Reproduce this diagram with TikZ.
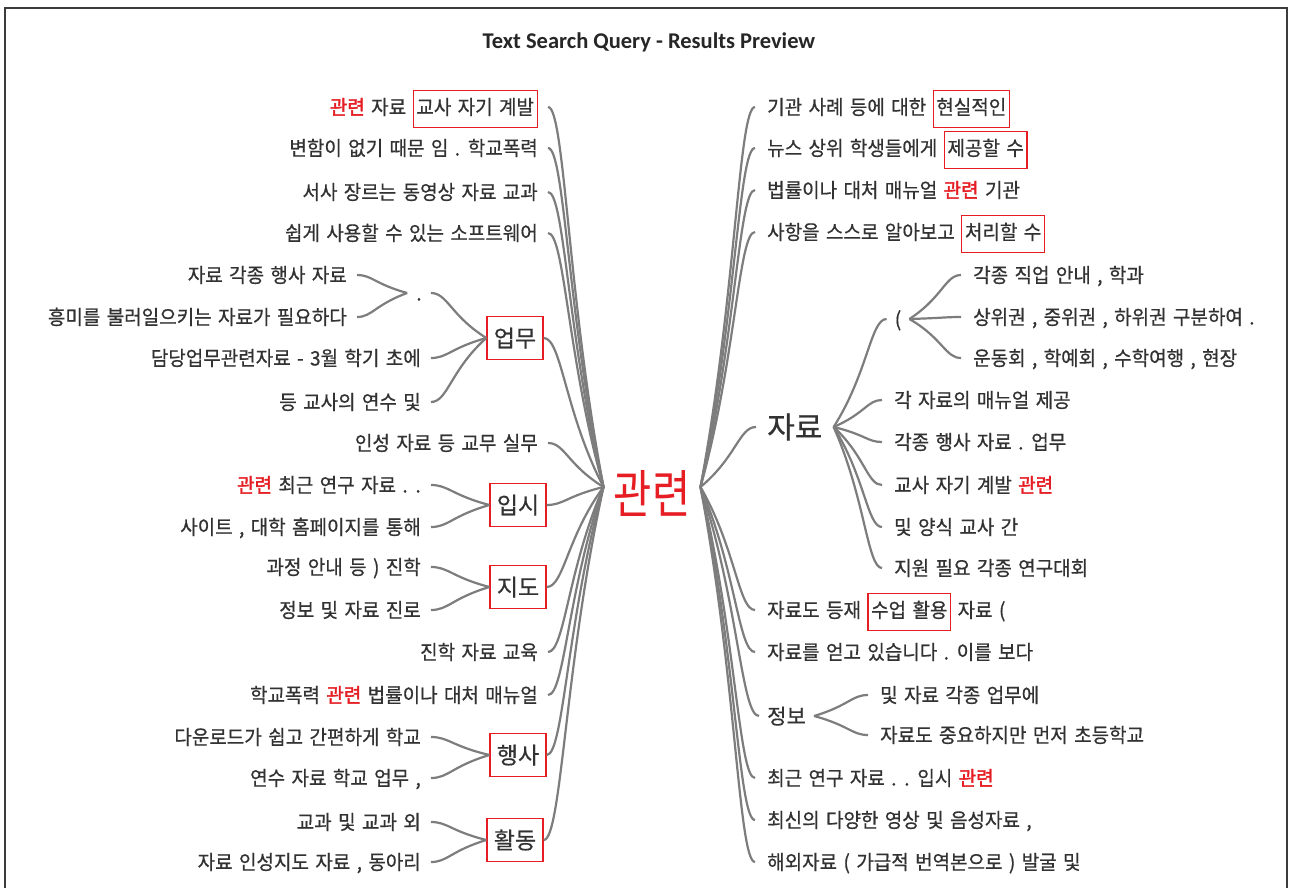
\documentclass[tikz,border=0pt]{standalone}
\usepackage{fontspec}
\usetikzlibrary{calc}
\newfontfamily\kr[FakeStretch=0.95,WordSpace=1.5,FakeBold=0.6]{Noto Sans CJK KR}
\newfontfamily\krb[FakeStretch=0.95,WordSpace=1.5,FakeBold=1.8]{Noto Sans CJK KR}
\newfontfamily\krw[FakeBold=0.5]{Noto Sans CJK KR}
\newfontfamily\krc[FakeStretch=0.8]{Noto Sans CJK KR}
\newfontfamily\ttl{Carlito}
\definecolor{kred}{RGB}{230,30,36}
\definecolor{txt}{RGB}{50,50,50}
\definecolor{lnk}{RGB}{125,125,125}
\definecolor{frm}{RGB}{60,60,60}
\newcommand\rd[1]{{\krb\textcolor{kred}{#1}}}
\newcommand\hbx[1]{{\setlength{\fboxsep}{2.5pt}\setlength{\fboxrule}{1.3pt}\fcolorbox{kred}{white}{\rule[-10pt]{0pt}{31pt}#1}}}
\newcommand\link[2]{\draw[conn] let \p1=(#1), \p2=(#2) in (\p1) .. controls ({\x1+0.3*(\x2-\x1)},\y1) and ({\x1+0.35*(\x2-\x1)},{\y1+0.5*(\y2-\y1)}) .. (\p2);}
\tikzset{
  item/.style={font=\kr\fontsize{20}{24}\selectfont, text=txt, text height=18pt, text depth=3pt, inner ysep=0pt},
  L/.style={item, anchor=east, inner xsep=10pt},
  R/.style={item, anchor=west, inner xsep=12pt},
  kbox/.style={draw=kred, line width=1.3pt, font=\krw\fontsize{23}{27}\selectfont, text=txt, minimum width=56pt, minimum height=43pt, text height=17.5pt, text depth=0pt, inner sep=0pt},
  conn/.style={draw=lnk, line width=2.2pt},
}
\begin{document}
\begin{tikzpicture}[x=1pt,y=-1pt]
\useasboundingbox (0,0) rectangle (1290,888);
\fill[white] (0,0) rectangle (1290,888);
\draw[frm, line width=1.6pt] (5,8) rectangle (1287,900);
\node[font=\ttl\bfseries\fontsize{22.5}{26}\selectfont, text=black!85] (t) at (649,42) {Text Search Query - Results Preview};

% centre
\node[font=\krc\fontsize{52}{60}\selectfont, text=kred, text height=52pt, text depth=0pt, inner xsep=10pt, inner ysep=0pt] (c) at (652,487) {관련};

% left side
\node[L] (l1) at (548,107) {\rd{관련} 자료 \hbx{교사 자기 계발}};
\node[L] (l2) at (548,148) {변함이 없기 때문 임 . 학교폭력};
\node[L] (l3) at (548,192) {서사 장르는 동영상 자료 교과};
\node[L] (l4) at (548,233) {쉽게 사용할 수 있는 소프트웨어};
\node[item, inner xsep=9pt] (d) at (419,293) {.};
\node[L] (l5) at (357,275) {자료 각종 행사 자료};
\node[L] (l6) at (357,317) {흥미를 불러일으키는 자료가 필요하다};
\node[kbox] (b1) at (515,338) {업무};
\node[L] (l7) at (431,358) {담당업무관련자료 - 3월 학기 초에};
\node[L] (l8) at (431,402) {등 교사의 연수 및};
\node[L] (l9) at (548,443) {인성 자료 등 교무 실무};
\node[kbox] (b2) at (518,505) {입시};
\node[L] (l10) at (431,485) {\rd{관련} 최근 연구 자료 . .};
\node[L] (l11) at (431,527) {사이트 , 대학 홈페이지를 통해};
\node[kbox] (b3) at (518,587) {지도};
\node[L] (l12) at (431,567) {과정 안내 등 ) 진학};
\node[L] (l13) at (431,610) {정보 및 자료 진로};
\node[L] (l14) at (548,652) {진학 자료 교육};
\node[L] (l15) at (548,695) {학교폭력 \rd{관련} 법률이나 대처 매뉴얼};
\node[kbox] (b4) at (518,755) {행사};
\node[L] (l16) at (431,737) {다운로드가 쉽고 간편하게 학교};
\node[L] (l17) at (431,778) {연수 자료 학교 업무 ,};
\node[kbox] (b5) at (515,840) {활동};
\node[L] (l18) at (431,822) {교과 및 교과 외};
\node[L] (l19) at (431,862) {자료 인성지도 자료 , 동아리};

% right side
\node[R] (r1) at (755,107) {기관 사례 등에 대한 \hbx{현실적인}};
\node[R] (r2) at (755,148) {뉴스 상위 학생들에게 \hbx{제공할 수}};
\node[R] (r3) at (755,190) {법률이나 대처 매뉴얼 \rd{관련} 기관};
\node[R] (r4) at (755,232) {사항을 스스로 알아보고 \hbx{처리할 수}};
\node[font=\krw\fontsize{30}{34}\selectfont, text=txt, anchor=west, inner xsep=11pt, inner ysep=0pt, text height=22.5pt, text depth=0pt] (j) at (756,427) {자료};
\node[item, inner xsep=8pt] (p) at (898,319) {(};
\node[R] (p1) at (961,275) {각종 직업 안내 , 학과};
\node[R] (p2) at (961,317) {상위권 , 중위권 , 하위권 구분하여 .};
\node[R] (p3) at (961,358) {운동회 , 학예회 , 수학여행 , 현장};
\node[R] (j1) at (882,400) {각 자료의 매뉴얼 제공};
\node[R] (j2) at (882,442) {각종 행사 자료 . 업무};
\node[R] (j3) at (882,485) {교사 자기 계발 \rd{관련}};
\node[R] (j4) at (882,527) {및 양식 교사 간};
\node[R] (j5) at (882,568) {지원 필요 각종 연구대회};
\node[R] (r6) at (755,610) {자료도 등재 \hbx{수업 활용} 자료 (};
\node[R] (r7) at (755,652) {자료를 얻고 있습니다 . 이를 보다};
\node[font=\krw\fontsize{21}{25}\selectfont, text=txt, anchor=west, inner xsep=8pt, inner ysep=0pt, text height=16pt, text depth=0pt] (s) at (759,716) {정보};
\node[R] (s1) at (868,695) {및 자료 각종 업무에};
\node[R] (s2) at (868,735) {자료도 중요하지만 먼저 초등학교};
\node[R] (r9) at (755,778) {최근 연구 자료 . . 입시 \rd{관련}};
\node[R] (r10) at (755,820) {최신의 다양한 영상 및 음성자료 ,};
\node[R] (r11) at (755,862) {해외자료 ( 가급적 번역본으로 ) 발굴 및};

% connectors left
\foreach \q in {l1,l2,l3,l4,b1,l9,b2,b3,l14,l15,b4,b5} {\link{\q.east}{c.west}}
\link{l5.east}{d.west}
\link{l6.east}{d.west}
\link{d.east}{b1.west}
\link{l7.east}{b1.west}
\link{l8.east}{b1.west}
\link{l10.east}{b2.west}
\link{l11.east}{b2.west}
\link{l12.east}{b3.west}
\link{l13.east}{b3.west}
\link{l16.east}{b4.west}
\link{l17.east}{b4.west}
\link{l18.east}{b5.west}
\link{l19.east}{b5.west}
% connectors right
\foreach \q in {r1,r2,r3,r4,j,r6,r7,s,r9,r10,r11} {\link{\q.west}{c.east}}
\link{p.west}{j.east}
\foreach \q in {j1,j2,j3,j4,j5} {\link{\q.west}{j.east}}
\foreach \q in {p1,p2,p3} {\link{\q.west}{p.east}}
\link{s1.west}{s.east}
\link{s2.west}{s.east}
\end{tikzpicture}
\end{document}
